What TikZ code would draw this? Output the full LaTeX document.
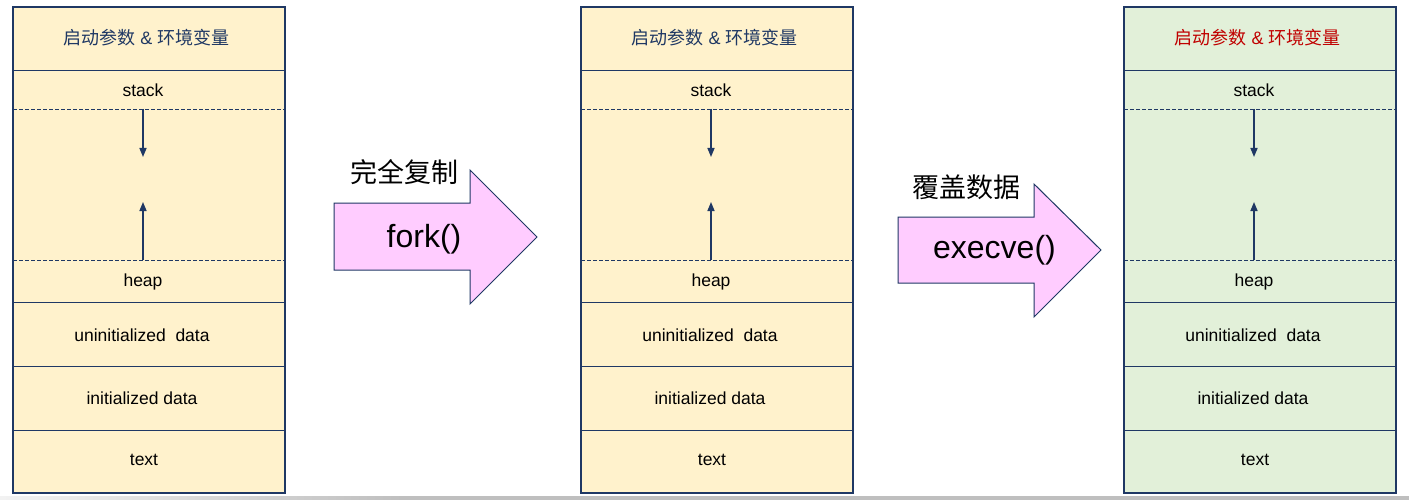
\documentclass[tikz,border=0pt]{standalone}
\usepackage{fontspec}
\setmainfont{Liberation Sans}
\newfontfamily\cjk{Noto Sans CJK SC}
\usetikzlibrary{arrows.meta}
\definecolor{navy}{HTML}{1F3864}
\definecolor{segyel}{HTML}{FFF2CC}
\definecolor{seggrn}{HTML}{E2F0D9}
\definecolor{hdrred}{HTML}{C00000}
\definecolor{blkpink}{HTML}{FFCCFF}
\tikzset{
  seg/.style={rectangle, minimum width=272, inner sep=0, outer sep=0, draw=none},
  frame/.style={draw=navy, line width=1.3pt},
  sepline/.style={draw=navy, line width=0.9pt},
  dashline/.style={draw=navy, line width=0.8pt, dash pattern=on 3.5pt off 2.5pt},
  growarrow/.style={draw=navy, line width=1.5pt, -{Triangle[length=9pt,width=7pt]}},
  lbl/.style={inner sep=0, font=\fontsize{17.5}{20}\selectfont, text=black},
  hdrlbl/.style={inner sep=0, font=\fontsize{18}{21}\selectfont},
  blockarrow/.style={fill=blkpink, draw=navy, line width=1pt, line join=miter},
  cjklbl/.style={inner sep=0, font=\cjk\fontsize{27}{30}\selectfont, text=black},
  calllbl/.style={inner sep=0, font=\fontsize{32}{36}\selectfont, text=black}
}
\newcommand\memcol[4]{%
  \begin{scope}[shift={(#2,0)}]
    \node[seg, fill=#3, minimum height=63] (#1hdr) at (136,38.5) {};
    \node[seg, fill=#3, minimum height=39] (#1stk) at (136,89.5) {};
    \node[seg, fill=#3, minimum height=151] (#1gap) at (136,184.5) {};
    \node[seg, fill=#3, minimum height=42] (#1heap) at (136,281) {};
    \node[seg, fill=#3, minimum height=64] (#1uni) at (136,334) {};
    \node[seg, fill=#3, minimum height=64] (#1ini) at (136,398) {};
    \node[seg, fill=#3, minimum height=63] (#1txt) at (136,461.5) {};
    \draw[sepline] (#1hdr.south west) -- (#1hdr.south east);
    \draw[dashline] (#1stk.south west) -- (#1stk.south east);
    \draw[dashline] (#1gap.south west) -- (#1gap.south east);
    \draw[sepline] (#1heap.south west) -- (#1heap.south east);
    \draw[sepline] (#1uni.south west) -- (#1uni.south east);
    \draw[sepline] (#1ini.south west) -- (#1ini.south east);
    \draw[frame] (#1hdr.north west) rectangle (#1txt.south east);
    \coordinate (#1dn) at (130,157);
    \coordinate (#1up) at (130,202);
    \draw[growarrow] (#1dn |- #1gap.north) -- (#1dn);
    \draw[growarrow] (#1up |- #1gap.south) -- (#1up);
    \node[hdrlbl, text=#4] (#1hdrl) at (133.5,38) {{\cjk 启动参数} \& {\cjk 环境变量}};
    \node[lbl] (#1stkl) at (130,90) {stack};
    \node[lbl] (#1heapl) at (130,282) {heap};
    \node[lbl] (#1unil) at (129,335) {uninitialized\ \ data};
    \node[lbl] (#1inil) at (129,398.5) {initialized data};
    \node[lbl] (#1txtl) at (131,460) {text};
  \end{scope}}
\begin{document}
\begin{tikzpicture}[x=1pt,y=-1pt]
\useasboundingbox (0,0) rectangle (1409,500);
\fill[white] (0,0) rectangle (1409,500);
\shade[left color=gray!10, right color=gray!50] (0,496) rectangle (400,500);
\fill[gray!50] (400,496) rectangle (1409,500);
\memcol{a}{13}{segyel}{navy}
\memcol{b}{581}{segyel}{navy}
\memcol{c}{1124}{seggrn}{hdrred}
% fork arrow
\draw[blockarrow] (334,203) -- (470,203) -- (470,170) -- (537,237) -- (470,304) -- (470,270) -- (334,270) -- cycle;
\node[cjklbl] (forkcn) at (404,172.5) {完全复制};
\node[calllbl] (forkl) at (424,239) {fork()};
% execve arrow
\draw[blockarrow] (898,217) -- (1034,217) -- (1034,184) -- (1101,250) -- (1034,317) -- (1034,283) -- (898,283) -- cycle;
\node[cjklbl] (execcn) at (966,187) {覆盖数据};
\node[calllbl] (execl) at (994.5,250) {execve()};
\end{tikzpicture}
\end{document}
